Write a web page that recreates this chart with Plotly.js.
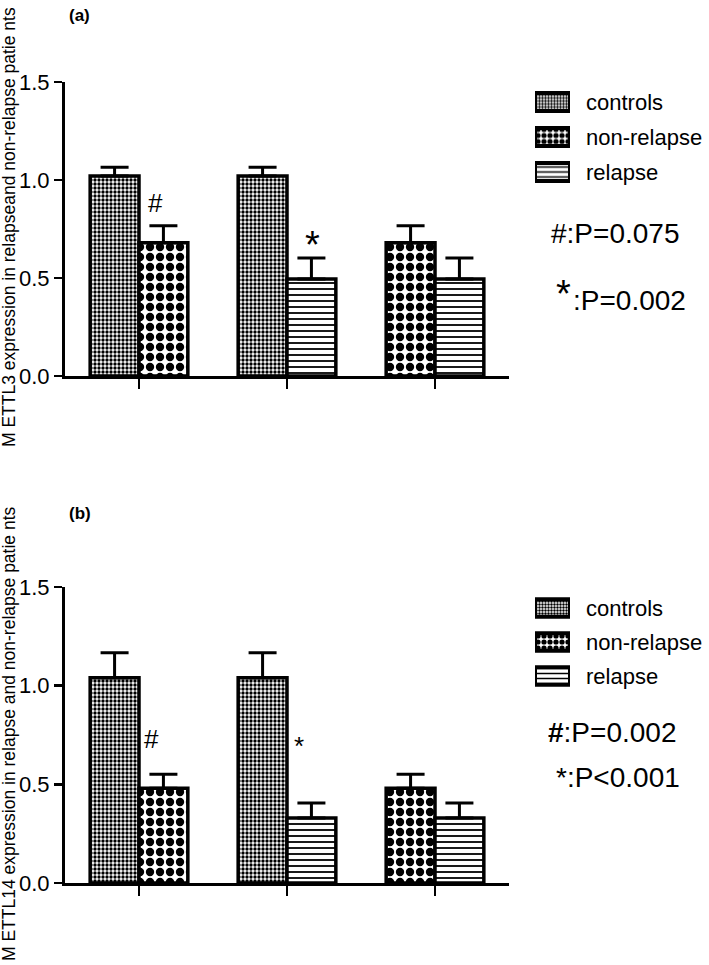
<!DOCTYPE html>
<html>
<head>
<meta charset="utf-8">
<script src="https://cdn.plot.ly/plotly-3.0.1.min.js"></script>
<style>html,body{margin:0;padding:0;background:#fff;}#chart{width:709px;height:965px;}</style>
</head>
<body>
<div id="chart"></div>
<script>
// ---- data ----
const seriesNames = ['controls', 'non-relapse', 'relapse'];
const comparisons = ['controls vs non-relapse', 'controls vs relapse', 'non-relapse vs relapse'];
const comparisonPairs = [['controls', 'non-relapse'], ['controls', 'relapse'], ['non-relapse', 'relapse']];

// Panel (a): METTL3
const meanA = { 'controls': [1.02, 1.02], 'non-relapse': [0.68, 0.68], 'relapse': [0.495, 0.495] };
const semA  = { 'controls': [0.045, 0.045], 'non-relapse': [0.086, 0.086], 'relapse': [0.107, 0.107] };
// Panel (b): METTL14
const meanB = { 'controls': [1.04, 1.04], 'non-relapse': [0.48, 0.48], 'relapse': [0.33, 0.33] };
const semB  = { 'controls': [0.127, 0.127], 'non-relapse': [0.071, 0.071], 'relapse': [0.076, 0.076] };

const yTicks = [0, 0.5, 1.0, 1.5];
const titleA = 'M ETTL3 expression in relapseand non-relapse patie nts';
const titleB = 'M ETTL14 expression in relapse and non-relapse patie nts';
const pTextA = ['#:P=0.075', ':P=0.002'];
const pTextB = ['<b>#</b>:P=0.002', '*:P<0.001'];

// ---- styles ----
const W = 709, H = 965;
const FONT = 'Liberation Sans, Arial, sans-serif';
const barW = 0.33;
const patterns = {
  'controls':    { shape: '.', size: 4, solidity: 0.55, fgcolor: '#000', bgcolor: '#fff', fillmode: 'replace' },
  'non-relapse': { shape: '.', size: 10, solidity: 0.55, fgcolor: '#000', bgcolor: '#fff', fillmode: 'replace' },
  'relapse':     { shape: '-', size: 6, solidity: 0.3, fgcolor: '#000', bgcolor: '#fff', fillmode: 'replace' }
};
const legendPatterns = {
  'controls':    { shape: '.', size: 3, solidity: 0.5, fgcolor: '#000', bgcolor: '#fff', fillmode: 'replace' },
  'non-relapse': { shape: '.', size: 6, solidity: 0.6, fgcolor: '#000', bgcolor: '#fff', fillmode: 'replace' },
  'relapse':     { shape: '-', size: 5, solidity: 0.3, fgcolor: '#000', bgcolor: '#fff', fillmode: 'replace' }
};

function buildTraces(mean, sem, xa, ya) {
  return seriesNames.map(function (name) {
    const xs = [], offs = [];
    comparisonPairs.forEach(function (pair, gi) {
      const idx = pair.indexOf(name);
      if (idx >= 0) { xs.push(comparisons[gi]); offs.push(idx === 0 ? -barW : 0); }
    });
    return {
      type: 'bar', name: name, x: xs, y: mean[name],
      xaxis: xa, yaxis: ya, showlegend: false,
      width: barW, offset: offs,
      marker: { color: '#fff', line: { color: '#000', width: 3.5 }, pattern: patterns[name] },
      error_y: { type: 'data', symmetric: false, array: sem[name], arrayminus: sem[name].map(function () { return 0; }),
                 color: '#000', thickness: 3, width: 14 },
      hoverinfo: 'skip'
    };
  });
}
// legend swatches as small horizontal bars in their own axes; labels are that axis' tick labels
function buildKey(xa, ya) {
  return seriesNames.map(function (name) {
    return {
      type: 'bar', orientation: 'h', name: name, y: [name], x: [1], base: [0],
      xaxis: xa, yaxis: ya, showlegend: false, width: 0.52,
      marker: { color: '#fff', line: { color: '#000', width: 4 }, pattern: legendPatterns[name] },
      hoverinfo: 'skip'
    };
  });
}

const traces = buildTraces(meanA, semA, 'x', 'y')
  .concat(buildTraces(meanB, semB, 'x2', 'y2'))
  .concat(buildKey('x3', 'y3'))
  .concat(buildKey('x4', 'y4'));

function px(x) { return x / W; }
function py(y) { return 1 - y / H; }

const xDom = [px(65), px(509)];
function xAxis(anchor) {
  return { domain: xDom, anchor: anchor, type: 'category', categoryarray: comparisons, categoryorder: 'array',
           range: [-0.5, 2.5], showline: true, linewidth: 3, linecolor: '#000', ticks: 'outside',
           ticklen: 10, tickwidth: 2.5, tickcolor: '#000', showticklabels: false, showgrid: false, zeroline: false,
           fixedrange: true };
}
function yAxis(anchor, dom) {
  return { domain: dom, anchor: anchor, range: [0, 1.5], tickvals: yTicks, tickformat: '.1f',
           showline: true, linewidth: 3, linecolor: '#000', ticks: 'outside', ticklen: 8, tickwidth: 2.5,
           tickcolor: '#000', tickfont: { family: FONT, size: 22, color: '#000' }, showgrid: false,
           zeroline: false, fixedrange: true, ticklabelstandoff: 0 };
}
function keyX(anchor) {
  return { domain: [px(535), px(570)], anchor: anchor, range: [0, 1], visible: false, fixedrange: true };
}
function keyY(anchor, top, bottom) {
  return { domain: [py(bottom), py(top)], anchor: anchor, type: 'category', categoryarray: seriesNames,
           categoryorder: 'array', autorange: 'reversed', side: 'right', showline: false, showgrid: false,
           zeroline: false, ticks: '', ticklabelstandoff: 15, fixedrange: true,
           tickfont: { family: FONT, size: 22, color: '#000' } };
}

const ann = [];
function txt(text, x, y, size, opts) {
  ann.push(Object.assign({ text: text, xref: 'paper', yref: 'paper', x: px(x), y: py(y), xanchor: 'left',
    yanchor: 'middle', showarrow: false, font: { family: FONT, size: size, color: '#000' } }, opts || {}));
}
// y titles
txt(titleA, 9, 227, 17.5, { textangle: -90, xanchor: 'center' });
txt(titleB, 9, 734, 17.5, { textangle: -90, xanchor: 'center' });
// panel labels
txt('<b>(a)</b>', 67, 15, 17);
txt('<b>(b)</b>', 67, 513, 17);
// markers over bars
txt('#', 146, 203, 26);
txt('*', 303, 245, 38);
txt('#', 142, 739, 26);
txt('*', 292, 746, 26);
// p values
txt(pTextA[0], 549, 233, 28);
txt('*', 554, 294, 38);
txt(pTextA[1], 571, 300, 28);
txt(pTextB[0], 546, 732, 28);
txt(pTextB[1], 554, 777, 28);

const layout = {
  width: W, height: H, margin: { l: 0, r: 0, t: 0, b: 0 },
  paper_bgcolor: '#fff', plot_bgcolor: 'rgba(0,0,0,0)',
  barmode: 'overlay', showlegend: false,
  xaxis: xAxis('y'), yaxis: yAxis('x', [py(376), py(82)]),
  xaxis2: xAxis('y2'), yaxis2: yAxis('x2', [py(883), py(587)]),
  xaxis3: keyX('y3'), yaxis3: keyY('x3', 84.5, 189.5),
  xaxis4: keyX('y4'), yaxis4: keyY('x4', 591, 693),
  annotations: ann
};

Plotly.newPlot('chart', traces, layout, { displayModeBar: false, staticPlot: true });
</script>
</body>
</html>
